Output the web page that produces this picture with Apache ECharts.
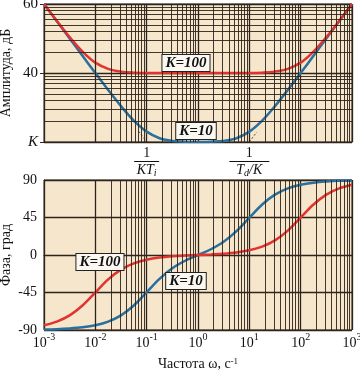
<!DOCTYPE html>
<html><head><meta charset="utf-8">
<script src="https://cdn.jsdelivr.net/npm/echarts@6/dist/echarts.min.js"></script>
<style>html,body{margin:0;padding:0;background:#fff}#c{width:360px;height:378px}</style>
</head><body><div id="c"></div>
<script>
// Frequencies, rad/s (quarter-decade steps)
var freq = [0.001, 0.00178, 0.00316, 0.00562, 0.01, 0.0178, 0.0316, 0.0562, 0.1, 0.178, 0.316, 0.562, 1, 1.78, 3.16, 5.62, 10, 17.8, 31.6, 56.2, 100, 178, 316, 562, 1000];
// Amplitude, dB
var magK10  = [60.0, 55.0, 50.0, 45.0, 40.0, 35.1, 30.4, 26.2, 23.0, 21.1, 20.3, 20.1, 20.0, 20.1, 20.3, 21.1, 23.0, 26.2, 30.4, 35.1, 40.0, 45.0, 50.0, 55.0, 60.0];
var magK100 = [60.0, 55.1, 50.4, 46.2, 43.0, 41.2, 40.4, 40.1, 40.0, 40.0, 40.0, 40.0, 40.0, 40.0, 40.0, 40.0, 40.0, 40.1, 40.4, 41.2, 43.0, 46.2, 50.4, 55.1, 60.0];
// Phase, degrees
var phK10  = [-89.4, -89.0, -88.2, -86.8, -84.3, -79.9, -72.4, -60.6, -44.7, -28.6, -15.9, -6.9, 0, 6.9, 15.9, 28.6, 44.7, 60.6, 72.4, 79.9, 84.3, 86.8, 88.2, 89.0, 89.4];
var phK100 = [-84.3, -79.9, -72.5, -60.6, -45.0, -29.3, -17.5, -10.1, -5.7, -3.1, -1.6, -0.7, 0, 0.7, 1.6, 3.1, 5.7, 10.1, 17.5, 29.3, 45.0, 60.6, 72.5, 79.9, 84.3];
// Asymptote segments (dashed)
var asymLowFreq = [0.07, 0.1];
var asymLowMag = [23.1, 20.0];
var asymHighFreq = [10, 14];
var asymHighMag = [20.0, 22.9];
// Tick labels
var ampTicks = {20: 'K', 40: '40', 60: '60'};
var phaseTicks = [-90, -45, 0, 45, 90];

function pairs(xs, ys) { return xs.map(function (x, i) { return [x, ys[i]]; }); }

var RED = '#e2332f', BLUE = '#2b6f9c', GRIDC = '#2e241b', BG = '#f5e6cc';
var SERIF = '"Liberation Serif","DejaVu Serif",serif';

var minorX = [];
for (var e = -3; e < 3; e++) for (var n = 2; n <= 9; n++) minorX.push({xAxis: n * Math.pow(10, e)});
var minorY = [];
[10, 100].forEach(function (d) { for (var n = 2; n <= 9; n++) minorY.push({yAxis: 20 * Math.log10(n * d)}); });

var mlStyle = {silent: true, symbol: 'none', animation: false, label: {show: false},
  lineStyle: {color: GRIDC, width: 1, type: 'solid', opacity: 0.9}, emphasis: {disabled: true}};

function boxLabel(text) {
  return {show: true, position: 'inside', formatter: text, color: '#111', fontFamily: SERIF,
    fontSize: 15, fontWeight: 'bold', fontStyle: 'italic', backgroundColor: '#fbf8f1',
    borderColor: '#222', borderWidth: 1, padding: [1, 3, 0, 3]};
}
function mp(coord, text) {
  return {silent: true, animation: false, symbol: 'rect', symbolSize: 1, itemStyle: {color: 'rgba(0,0,0,0)'},
    data: [{coord: coord, label: boxLabel(text)}]};
}

var chart = echarts.init(document.getElementById('c'), null, {renderer: 'canvas'});
chart.setOption({
  animation: false,
  backgroundColor: '#fff',
  grid: [
    {left: 44, right: 8, top: 4, height: 138, show: true, backgroundColor: BG, borderColor: GRIDC, borderWidth: 1,
      containLabel: false, outerBoundsMode: 'none'},
    {left: 44, right: 8, top: 180, height: 150, show: true, backgroundColor: BG, borderColor: GRIDC, borderWidth: 1,
      containLabel: false, outerBoundsMode: 'none'}
  ],
  xAxis: [
    {type: 'log', logBase: 10, min: 0.001, max: 1000, gridIndex: 0,
      axisLine: {show: true, lineStyle: {color: GRIDC}}, axisTick: {show: false},
      splitLine: {show: true, lineStyle: {color: GRIDC, width: 1.3}},
      axisLabel: {show: true, margin: 5, interval: 0, fontFamily: SERIF, color: '#111', lineHeight: 14,
        formatter: function (v) {
          var ex = Math.round(Math.log10(v));
          if (ex === -1) return '{n|1}\n{bar| }\n{d|KT}{s|i}';
          if (ex === 1) return '{n|1}\n{bar2| }\n{d|T}{s|d}{d|/K}';
          return '';
        },
        rich: {
          n: {fontFamily: SERIF, fontSize: 14, color: '#111', lineHeight: 13},
          bar: {width: 25, height: 1, lineHeight: 3, backgroundColor: '#111', fontSize: 1},
          bar2: {width: 40, height: 1, lineHeight: 3, backgroundColor: '#111', fontSize: 1},
          d: {fontFamily: SERIF, fontSize: 14, fontStyle: 'italic', color: '#111', lineHeight: 15},
          s: {fontFamily: SERIF, fontSize: 10, fontStyle: 'italic', color: '#111', lineHeight: 15, verticalAlign: 'bottom', padding: [6, 0, 0, 0]}
        }}},
    {type: 'log', logBase: 10, min: 0.001, max: 1000, gridIndex: 1,
      name: 'Частота ω, с{s|-1}', nameLocation: 'middle', nameGap: 27, nameMoveOverlap: false,
      nameTextStyle: {fontFamily: SERIF, fontSize: 14, color: '#111',
        rich: {s: {fontFamily: SERIF, fontSize: 9, color: '#111', verticalAlign: 'top', padding: [0, 0, 6, 0]}}},
      axisLine: {show: true, lineStyle: {color: GRIDC}}, axisTick: {show: false},
      splitLine: {show: true, lineStyle: {color: GRIDC, width: 1.3}},
      axisLabel: {margin: 4, fontFamily: SERIF, color: '#111',
        formatter: function (v) { return '{b|10}{s|' + Math.round(Math.log10(v)) + '}'; },
        rich: {
          b: {fontFamily: SERIF, fontSize: 14, color: '#111', lineHeight: 16, verticalAlign: 'bottom'},
          s: {fontFamily: SERIF, fontSize: 10, color: '#111', lineHeight: 16, verticalAlign: 'bottom', padding: [0, 0, 8, 0]}
        }}}
  ],
  yAxis: [
    {type: 'value', min: 20, max: 60, interval: 20, gridIndex: 0,
      name: 'Амплитуда, дБ', nameLocation: 'middle', nameGap: 31, nameRotate: 90, nameMoveOverlap: false,
      nameTextStyle: {fontFamily: SERIF, fontSize: 14, color: '#111'},
      axisLine: {show: true, lineStyle: {color: GRIDC}},
      axisTick: {show: true, length: 4, lineStyle: {color: GRIDC}},
      splitLine: {show: true, lineStyle: {color: GRIDC, width: 1.3}},
      axisLabel: {margin: 6, fontFamily: SERIF, fontSize: 15, color: '#111',
        formatter: function (v) { return v === 20 ? '{k|K}' : ampTicks[v]; },
        rich: {k: {fontFamily: SERIF, fontSize: 15, fontStyle: 'italic', color: '#111'}}}},
    {type: 'value', min: -90, max: 90, interval: 45, gridIndex: 1,
      name: 'Фаза, град', nameLocation: 'middle', nameGap: 31, nameRotate: 90, nameMoveOverlap: false,
      nameTextStyle: {fontFamily: SERIF, fontSize: 14, color: '#111'},
      axisLine: {show: true, lineStyle: {color: GRIDC}},
      axisTick: {show: false},
      splitLine: {show: true, lineStyle: {color: GRIDC, width: 1.3}},
      axisLabel: {margin: 7, fontFamily: SERIF, fontSize: 14, color: '#111',
        formatter: function (v) { return phaseTicks.indexOf(v) >= 0 ? String(v) : ''; }}}
  ],
  series: [
    {type: 'line', xAxisIndex: 0, yAxisIndex: 0, data: [], silent: true,
      markLine: Object.assign({data: minorX.concat(minorY)}, mlStyle)},
    {type: 'line', xAxisIndex: 1, yAxisIndex: 1, data: [], silent: true,
      markLine: Object.assign({data: minorX}, mlStyle)},
    {type: 'line', xAxisIndex: 0, yAxisIndex: 0, data: pairs(asymLowFreq, asymLowMag), showSymbol: false,
      lineStyle: {color: '#222', width: 0.8, type: [2, 2]}},
    {type: 'line', xAxisIndex: 0, yAxisIndex: 0, data: pairs(asymHighFreq, asymHighMag), showSymbol: false,
      lineStyle: {color: '#222', width: 0.8, type: [2, 2]}},
    {name: 'K=10', type: 'line', xAxisIndex: 0, yAxisIndex: 0, data: pairs(freq, magK10), smooth: 0.35,
      showSymbol: false, lineStyle: {color: BLUE, width: 2.5}, z: 3,
      markPoint: mp([0.914, 23.2], 'K=10')},
    {name: 'K=100', type: 'line', xAxisIndex: 0, yAxisIndex: 0, data: pairs(freq, magK100), smooth: 0.35,
      showSymbol: false, lineStyle: {color: RED, width: 2.5}, z: 4,
      markPoint: mp([0.583, 42.9], 'K=100')},
    {name: 'K=10', type: 'line', xAxisIndex: 1, yAxisIndex: 1, data: pairs(freq, phK10), smooth: 0.35,
      showSymbol: false, lineStyle: {color: BLUE, width: 2.5}, z: 3,
      markPoint: mp([0.583, -31.2], 'K=10')},
    {name: 'K=100', type: 'line', xAxisIndex: 1, yAxisIndex: 1, data: pairs(freq, phK100), smooth: 0.35,
      showSymbol: false, lineStyle: {color: RED, width: 2.5}, z: 4,
      markPoint: mp([0.0123, -8.4], 'K=100')}
  ]
});
</script>
</body></html>
